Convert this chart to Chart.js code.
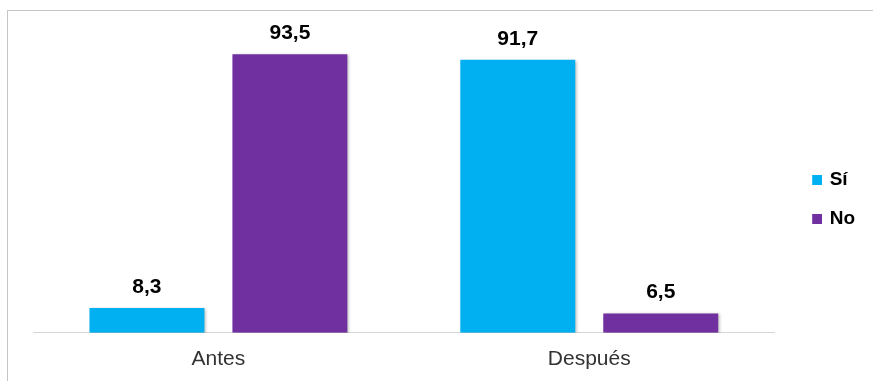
<!DOCTYPE html>
<html>
<head>
<meta charset="utf-8">
<script src="https://cdn.jsdelivr.net/npm/chart.js@4"></script>
<style>
html,body{margin:0;padding:0;background:#fff;}
#c{display:block;}
</style>
</head>
<body>
<canvas id="c" width="873" height="381"></canvas>
<script>
const categories = ['Antes', 'Después'];
const seriesNames = ['Sí', 'No'];
const siValues = [8.3, 91.7];
const noValues = [93.5, 6.5];
const seriesColors = ['#00B0F0', '#7030A0'];

function legendSwatch(color) {
  const cv = document.createElement('canvas');
  cv.width = 30; cv.height = 10;
  const g = cv.getContext('2d');
  g.fillStyle = color;
  g.fillRect(20, 0, 10, 10);
  return cv;
}
const swatches = seriesColors.map(legendSwatch);

const decoPlugin = {
  id: 'deco',
  beforeDraw(chart) {
    const ctx = chart.ctx;
    ctx.save();
    ctx.fillStyle = '#ffffff';
    ctx.fillRect(0, 0, chart.width, chart.height);
    ctx.strokeStyle = '#c4c4c4';
    ctx.lineWidth = 1;
    ctx.strokeRect(7.5, 10.5, 900, 400);
    ctx.restore();
  },
  beforeDatasetsDraw(chart) {
    const ctx = chart.ctx;
    ctx.save();
    ctx.shadowColor = 'rgba(0,0,0,0.28)';
    ctx.shadowBlur = 3;
    ctx.shadowOffsetX = 2;
    ctx.shadowOffsetY = 1;
  },
  afterDatasetsDraw(chart) {
    const ctx = chart.ctx;
    ctx.restore();
    ctx.save();
    ctx.font = 'bold 21px "Liberation Sans", Arial, sans-serif';
    ctx.fillStyle = '#000000';
    ctx.textAlign = 'center';
    ctx.textBaseline = 'alphabetic';
    chart.data.datasets.forEach((ds, di) => {
      const meta = chart.getDatasetMeta(di);
      meta.data.forEach((el, i) => {
        const v = ds.data[i];
        ctx.fillText(v.toFixed(1).replace('.', ','), el.x, el.y - 15);
      });
    });
    ctx.restore();
  }
};

new Chart(document.getElementById('c'), {
  type: 'bar',
  data: {
    labels: categories,
    datasets: [
      { label: seriesNames[0], data: siValues, backgroundColor: seriesColors[0], borderWidth: 0,
        categoryPercentage: 0.771, barPercentage: 0.804 },
      { label: seriesNames[1], data: noValues, backgroundColor: seriesColors[1], borderWidth: 0,
        categoryPercentage: 0.771, barPercentage: 0.804 }
    ]
  },
  options: {
    responsive: false,
    animation: false,
    devicePixelRatio: 1,
    layout: { padding: { left: 33, top: 35, bottom: -5, right: 8 } },
    scales: {
      x: {
        grid: { display: false, drawTicks: false },
        border: { display: true, color: '#d6d6d6', width: 1 },
        ticks: { color: '#333333', padding: 14, font: { family: '"Liberation Sans", Arial, sans-serif', size: 21 } }
      },
      y: { display: false, min: 0, max: 100 }
    },
    plugins: {
      tooltip: { enabled: false },
      legend: {
        position: 'right',
        align: 'start',
        title: { display: true, text: '', font: { size: 10, lineHeight: 1 }, padding: { top: 106, bottom: 0 } },
        labels: {
          usePointStyle: true,
          pointStyleWidth: 26,
          padding: 19.5,
          color: '#000000',
          font: { family: '"Liberation Sans", Arial, sans-serif', size: 19, weight: 'bold' },
          generateLabels(chart) {
            const items = Chart.defaults.plugins.legend.labels.generateLabels(chart);
            items.forEach((it, i) => { it.pointStyle = swatches[i]; it.lineWidth = 0; });
            return items;
          }
        }
      }
    }
  },
  plugins: [decoPlugin]
});
</script>
</body>
</html>
